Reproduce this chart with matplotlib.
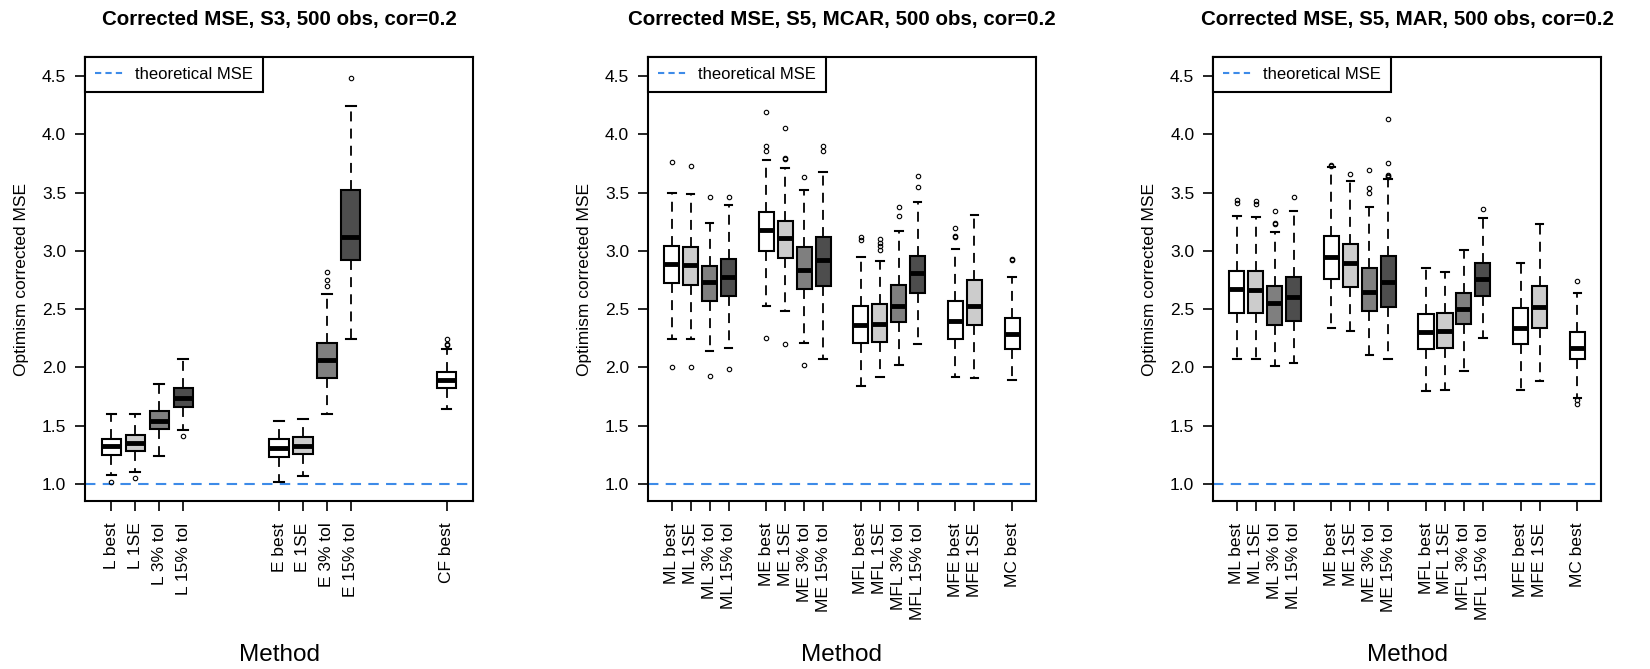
import matplotlib.pyplot as plt
from matplotlib.lines import Line2D

plt.rcParams['font.family'] = ['Liberation Sans', 'DejaVu Sans']

# ---- panel 1: S3 ----
s3_labels = ['L best', 'L 1SE', 'L 3% tol', 'L 15% tol',
             'E best', 'E 1SE', 'E 3% tol', 'E 15% tol', 'CF best']
s3_groups = [4, 4, 1]
s3_whislo = [1.08, 1.10, 1.24, 1.46, 1.02, 1.07, 1.60, 2.24, 1.64]
s3_q1 = [1.25, 1.28, 1.47, 1.66, 1.23, 1.26, 1.91, 2.92, 1.82]
s3_med = [1.33, 1.35, 1.54, 1.74, 1.31, 1.33, 2.06, 3.12, 1.89]
s3_q3 = [1.39, 1.42, 1.63, 1.82, 1.39, 1.40, 2.21, 3.52, 1.96]
s3_whishi = [1.60, 1.60, 1.86, 2.07, 1.54, 1.56, 2.63, 4.24, 2.16]
s3_fliers = [[1.02], [1.05], [], [1.41], [], [], [2.70, 2.75, 2.82],
             [4.48], [2.19, 2.20, 2.24]]

# ---- panel 2: S5, MCAR ----
s5_labels = ['ML best', 'ML 1SE', 'ML 3% tol', 'ML 15% tol',
             'ME best', 'ME 1SE', 'ME 3% tol', 'ME 15% tol',
             'MFL best', 'MFL 1SE', 'MFL 3% tol', 'MFL 15% tol',
             'MFE best', 'MFE 1SE', 'MC best']
s5_groups = [4, 4, 4, 2, 1]
mcar_whislo = [2.24, 2.24, 2.14, 2.17, 2.53, 2.48, 2.21, 2.07,
               1.84, 1.92, 2.02, 2.20, 1.92, 1.91, 1.89]
mcar_q1 = [2.72, 2.71, 2.57, 2.61, 3.00, 2.94, 2.67, 2.70,
           2.21, 2.22, 2.39, 2.64, 2.24, 2.36, 2.16]
mcar_med = [2.89, 2.88, 2.73, 2.78, 3.18, 3.11, 2.84, 2.92,
            2.36, 2.37, 2.53, 2.81, 2.40, 2.53, 2.29]
mcar_q3 = [3.04, 3.03, 2.87, 2.93, 3.33, 3.26, 3.03, 3.12,
           2.53, 2.54, 2.71, 2.96, 2.57, 2.75, 2.42]
mcar_whishi = [3.50, 3.49, 3.24, 3.39, 3.78, 3.71, 3.52, 3.68,
               2.95, 2.91, 3.17, 3.42, 3.02, 3.31, 2.78]
mcar_fliers = [[3.76, 2.00], [3.73, 2.00], [3.46, 1.93], [3.46, 1.99],
               [4.19, 3.90, 3.86, 2.25], [4.05, 3.79, 3.80, 2.20],
               [3.63, 2.02], [3.90, 3.86],
               [3.12, 3.09], [3.10, 3.07, 3.04, 3.01], [3.38, 3.30],
               [3.64, 3.55], [3.20, 3.12, 3.13], [], [2.92, 2.93]]

# ---- panel 3: S5, MAR ----
mar_whislo = [2.07, 2.07, 2.01, 2.04, 2.34, 2.31, 2.11, 2.07,
              1.80, 1.81, 1.97, 2.25, 1.81, 1.88, 1.74]
mar_q1 = [2.47, 2.47, 2.36, 2.40, 2.76, 2.69, 2.48, 2.52,
          2.16, 2.17, 2.37, 2.61, 2.20, 2.34, 2.07]
mar_med = [2.67, 2.66, 2.55, 2.60, 2.95, 2.90, 2.65, 2.73,
           2.30, 2.31, 2.50, 2.76, 2.34, 2.52, 2.17]
mar_q3 = [2.83, 2.83, 2.70, 2.78, 3.13, 3.06, 2.85, 2.96,
          2.46, 2.47, 2.64, 2.90, 2.51, 2.70, 2.30]
mar_whishi = [3.30, 3.29, 3.16, 3.34, 3.72, 3.60, 3.38, 3.62,
              2.85, 2.82, 3.01, 3.28, 2.90, 3.23, 2.64]
mar_fliers = [[3.44, 3.41], [3.43, 3.40], [3.34, 3.24, 3.23], [3.46],
              [3.73, 3.74], [3.66], [3.69, 3.54, 3.50],
              [4.13, 3.75, 3.65, 3.64, 3.63],
              [], [], [], [3.36], [], [], [2.74, 1.72, 1.69]]

panels = [
    ('Corrected MSE, S3, 500 obs, cor=0.2', s3_labels, s3_groups, 3,
     s3_whislo, s3_q1, s3_med, s3_q3, s3_whishi, s3_fliers),
    ('Corrected MSE, S5, MCAR, 500 obs, cor=0.2', s5_labels, s5_groups, 1,
     mcar_whislo, mcar_q1, mcar_med, mcar_q3, mcar_whishi, mcar_fliers),
    ('Corrected MSE, S5, MAR, 500 obs, cor=0.2', s5_labels, s5_groups, 1,
     mar_whislo, mar_q1, mar_med, mar_q3, mar_whishi, mar_fliers),
]

fills = ['white', '#cccccc', '#7f7f7f', '#4d4d4d']
theory_col = '#3d8be8'
theoretical_mse = 1.0

fig = plt.figure(figsize=(16.5, 6.69), dpi=100)
lefts = [0.0515, 0.3927, 0.7352]

for left, (title, labels, groups, gap, wlo, q1, med, q3, whi, fl) in zip(lefts, panels):
    ax = fig.add_axes([left, 0.2511, 0.2352, 0.6637])

    # positions: groups side by side with empty slots between them
    pos, colors = [], []
    p = 1
    for g in groups:
        for k in range(g):
            pos.append(p)
            colors.append(fills[k])
            p += 1
        p += gap

    stats = []
    for i in range(len(labels)):
        stats.append(dict(label=labels[i], whislo=wlo[i], q1=q1[i], med=med[i],
                          q3=q3[i], whishi=whi[i], fliers=fl[i]))

    bp = ax.bxp(stats, positions=pos, widths=0.8, capwidths=0.4, patch_artist=True,
                boxprops=dict(edgecolor='black', linewidth=1.5),
                medianprops=dict(color='black', linewidth=3.5, solid_capstyle='butt'),
                whiskerprops=dict(color='black', linewidth=1.3, linestyle=(0, (5.5, 4))),
                capprops=dict(color='black', linewidth=1.5),
                flierprops=dict(marker='o', markersize=3.2, markerfacecolor='none',
                                markeredgecolor='black', markeredgewidth=0.8))
    for patch, c in zip(bp['boxes'], colors):
        patch.set_facecolor(c)

    ax.axhline(theoretical_mse, color=theory_col, linestyle=(0, (5, 3.5)),
               linewidth=1.5, zorder=0.5)

    lo, hi = min(pos) - 0.5, max(pos) + 0.5
    ext = 0.04 * (hi - lo)
    ax.set_xlim(lo - ext, hi + ext)
    ax.set_ylim(0.854, 4.663)

    yt = [1.0, 1.5, 2.0, 2.5, 3.0, 3.5, 4.0, 4.5]
    ax.set_yticks(yt)
    ax.set_yticklabels(['%.1f' % v for v in yt])
    ax.set_xticks(pos)
    ax.set_xticklabels(labels, rotation=90, va='top')
    ax.tick_params(axis='both', direction='out', length=7.5, width=1.2, labelsize=12.5)
    ax.tick_params(axis='x', pad=8)
    ax.tick_params(axis='y', pad=6)
    for s in ax.spines.values():
        s.set_linewidth(1.5)

    ax.set_title(title, fontsize=14.8, fontweight='bold', pad=23)
    ax.set_ylabel('Optimism corrected MSE', fontsize=12.5)
    ax.yaxis.set_label_coords(-0.145, 0.5)
    ax.set_xlabel('Method', fontsize=17.5)
    ax.xaxis.set_label_coords(0.5, -0.322)

    h = Line2D([], [], color=theory_col, linestyle=(0, (3, 2)), linewidth=1.5)
    leg = ax.legend([h], ['theoretical MSE'], loc='upper left', bbox_to_anchor=(0, 1),
                    borderaxespad=0, fancybox=False, edgecolor='black', framealpha=1,
                    fontsize=12, handlelength=1.8, handletextpad=0.6, borderpad=0.6)
    leg.get_frame().set_linewidth(1.5)

fig.savefig('out.png', dpi=100)
